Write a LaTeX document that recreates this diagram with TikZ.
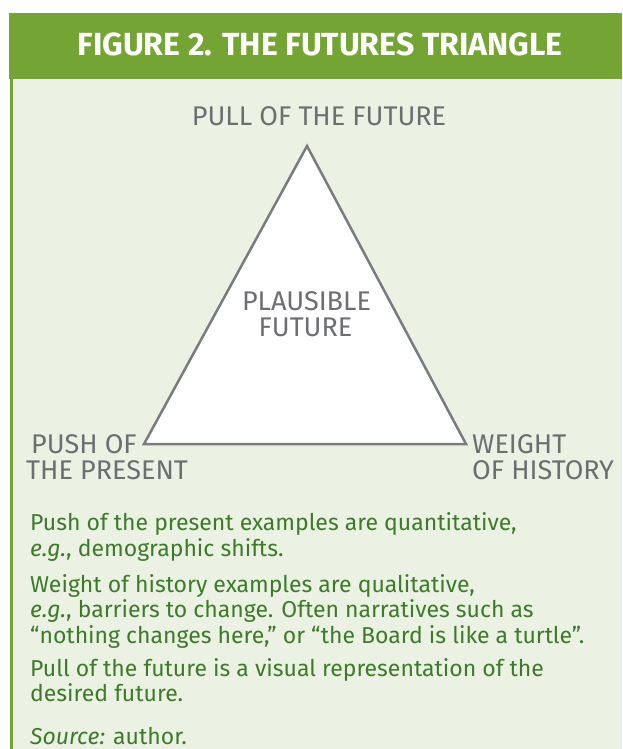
\documentclass[tikz,border=0pt]{standalone}
\usepackage{fontspec}
\setmainfont{Fira Sans}
\usetikzlibrary{positioning}

\definecolor{headgreen}{HTML}{74A534}
\definecolor{panelgreen}{HTML}{EBF1E3}
\definecolor{labelgray}{HTML}{6D6E71}
\definecolor{textgreen}{HTML}{3D7B2A}
\definecolor{edgegray}{HTML}{7A7B7E}

\tikzset{
  titletext/.style={text=white,inner sep=0pt,anchor=base,font=\fontsize{32}{36}\selectfont\bfseries},
  cornerlabel/.style={text=labelgray,inner sep=0pt,text height=19pt,text depth=0pt,font=\fontsize{27}{31}\selectfont},
  bodyline/.style={text=textgreen,inner sep=0pt,anchor=base west,font=\fontsize{23}{27}\selectfont},
}

\begin{document}
\begin{tikzpicture}[x=1pt,y=-1pt]
\useasboundingbox (0,0) rectangle (622,749);
\fill[white] (0,0) rectangle (622,749);
\fill[panelgreen] (12,79) rectangle (622,749);
\fill[headgreen] (9,13) rectangle (622,79);
\fill[headgreen] (10,79) rectangle (13,749);

\node[titletext] (title) at (320,56) {FIGURE 2. THE FUTURES TRIANGLE};

\coordinate (apex) at (307,146);
\coordinate (lcorner) at (144,444);
\coordinate (rcorner) at (466,444);
\draw[edgegray,line width=2.5pt,fill=white] (apex) -- (lcorner) -- (rcorner) -- cycle;

\node[cornerlabel,anchor=base] (pull) at (319,125) {PULL OF THE FUTURE};
\node[cornerlabel,anchor=base] (plausible) at (306.5,310) {PLAUSIBLE};
\node[cornerlabel,anchor=base] (future) at (305.5,336) {FUTURE};
\node[cornerlabel,anchor=base west] (push) at (31,453) {PUSH OF};
\node[cornerlabel,anchor=base west] (present) at (26,479) {THE PRESENT};
\node[cornerlabel,anchor=base west] (weight) at (472,453) {WEIGHT};
\node[cornerlabel,anchor=base west] (history) at (472,479) {OF HISTORY};

\node[bodyline] (push1) at (30,530) {Push of the present examples are quantitative,};
\node[bodyline] (push2) at (30,556) {\textit{e.g.}, demographic shifts.};
\node[bodyline] (weight1) at (30,592) {Weight of history examples are qualitative,};
\node[bodyline] (weight2) at (30,617) {\textit{e.g.}, barriers to change. Often narratives such as};
\node[bodyline] (weight3) at (30,643) {“nothing changes here,” or “the Board is like a turtle”.};
\node[bodyline] (pull1) at (30,676) {Pull of the future is a visual representation of the};
\node[bodyline] (pull2) at (30,701) {desired future.};
\node[bodyline,text depth=0pt] (source) at (30,744) {\textit{Source:} author.};
\end{tikzpicture}
\end{document}
